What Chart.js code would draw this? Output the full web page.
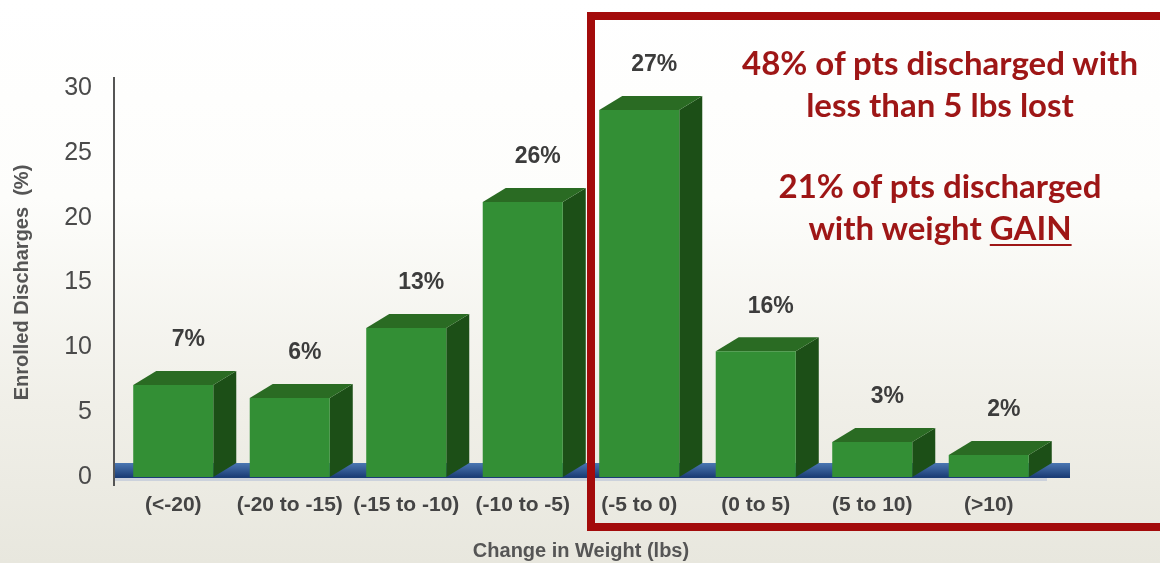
<!DOCTYPE html>
<html>
<head>
<meta charset="utf-8">
<script src="https://cdn.jsdelivr.net/npm/chart.js@4.4.1/dist/chart.umd.min.js"></script>
<style>
html, body { margin: 0; padding: 0; }
body {
    width: 1160px; height: 563px; overflow: hidden; position: relative;
    background: linear-gradient(to bottom, #ffffff 0%, #fdfdfb 35%, #f0efe8 72%, #e8e7de 100%);
}
#weightChart { position: absolute; left: 0; top: 0; }
#box {
    position: absolute; left: 587px; top: 12px; width: 600px; height: 519px;
    border: 8px solid #a30b0b; box-sizing: border-box; pointer-events: none;
}
.note {
    position: absolute; left: 700px; width: 480px; text-align: center;
    font-family: Lato, "Open Sans", sans-serif; font-weight: bold; font-size: 33px;
    line-height: 42px; color: #9e1616;
}
.note u { text-decoration-thickness: 2px; text-underline-offset: 4px; }
</style>
</head>
<body>
<canvas id="weightChart" width="1160" height="563"></canvas>
<div id="box"></div>
<div class="note" style="top:41px">48% of pts discharged with<br>less than 5 lbs lost</div>
<div class="note" style="top:164px">21% of pts discharged<br>with weight <u>GAIN</u></div>
<script>
// Kategorien und Werte (Balkenhoehen)
const categories = ['(<-20)', '(-20 to -15)', '(-15 to -10)', '(-10 to -5)', '(-5 to 0)', '(0 to 5)', '(5 to 10)', '(>10)'];
const barHeights = [7.1, 6.1, 11.5, 21.2, 28.3, 9.7, 2.7, 1.7];
const barLabels = ['7%', '6%', '13%', '26%', '27%', '16%', '3%', '2%'];
const yMin = 0, yMax = 30, yStep = 5;

const DX = 23, DY = 14; // Tiefe der 3D-Balken

const bars3d = {
    id: 'bars3d',
    beforeDatasetsDraw(chart) {
        const ctx = chart.ctx, area = chart.chartArea;
        const base = chart.scales.y.getPixelForValue(0);
        ctx.save();
        // Boden
        const g = ctx.createLinearGradient(0, base - DY, 0, base);
        g.addColorStop(0, '#4b77b2');
        g.addColorStop(1, '#1b3d76');
        ctx.fillStyle = g;
        ctx.fillRect(area.left, base - DY, area.right - area.left + DX, DY + 1);
        // x-Achse
        ctx.fillStyle = '#ccd2dc';
        ctx.fillRect(area.left - 1, base + 1, area.right - area.left + 1, 3);
        // Seiten und Deckflaechen
        chart.getDatasetMeta(0).data.forEach(bar => {
            const l = bar.x - bar.width / 2, r = bar.x + bar.width / 2, t = bar.y, b = bar.base;
            ctx.fillStyle = '#1c4f17';
            ctx.beginPath();
            ctx.moveTo(r, t); ctx.lineTo(r + DX, t - DY); ctx.lineTo(r + DX, b - DY); ctx.lineTo(r, b);
            ctx.closePath(); ctx.fill();
            ctx.fillStyle = '#2a6b23';
            ctx.beginPath();
            ctx.moveTo(l, t); ctx.lineTo(l + DX, t - DY); ctx.lineTo(r + DX, t - DY); ctx.lineTo(r, t);
            ctx.closePath(); ctx.fill();
        });
        ctx.restore();
    },
    afterDatasetsDraw(chart) {
        const ctx = chart.ctx, area = chart.chartArea;
        ctx.save();
        // y-Achse
        ctx.fillStyle = '#555';
        ctx.fillRect(area.left - 2, area.top - 11, 2, area.bottom - area.top + 20);
        // Prozentwerte
        ctx.font = 'bold 23px "Liberation Sans", Arial, sans-serif';
        ctx.fillStyle = '#3c3c3c';
        ctx.textAlign = 'center';
        ctx.textBaseline = 'middle';
        chart.getDatasetMeta(0).data.forEach((bar, i) => {
            ctx.fillText(barLabels[i], bar.x + 15, bar.y - 45);
        });
        ctx.restore();
    }
};

const ctx = document.getElementById('weightChart').getContext('2d');
new Chart(ctx, {
    type: 'bar',
    data: {
        labels: categories,
        datasets: [{
            data: barHeights,
            backgroundColor: '#338f35',
            borderWidth: 0,
            categoryPercentage: 1,
            barPercentage: 0.687
        }]
    },
    options: {
        responsive: false,
        animation: false,
        layout: { padding: { top: 88, right: 113, left: 0, bottom: 0 } },
        plugins: { legend: { display: false }, tooltip: { enabled: false } },
        scales: {
            x: {
                afterFit(scale) { scale.height = 86; },
                grid: { display: false, drawTicks: false },
                border: { display: false },
                ticks: {
                    padding: 16,
                    maxRotation: 0,
                    minRotation: 0,
                    autoSkip: false,
                    color: '#444',
                    font: { family: '"Liberation Sans", Arial, sans-serif', size: 21, weight: 'bold' }
                },
                title: {
                    display: true,
                    text: 'Change in Weight (lbs)',
                    color: '#555',
                    padding: { top: 0, bottom: 0 },
                    font: { family: '"Liberation Sans", Arial, sans-serif', size: 20, weight: 'bold' }
                }
            },
            y: {
                min: yMin,
                max: yMax,
                afterFit(scale) { scale.width = 115; },
                grid: { display: false, drawTicks: false },
                border: { display: false },
                ticks: {
                    stepSize: yStep,
                    padding: 23,
                    color: '#4a4a4a',
                    font: { family: '"Liberation Sans", Arial, sans-serif', size: 25 }
                },
                title: {
                    display: true,
                    text: 'Enrolled Discharges  (%)',
                    color: '#555',
                    padding: { top: 10, bottom: 0 },
                    font: { family: '"Liberation Sans", Arial, sans-serif', size: 20, weight: 'bold' }
                }
            }
        }
    },
    plugins: [bars3d]
});
</script>
</body>
</html>
